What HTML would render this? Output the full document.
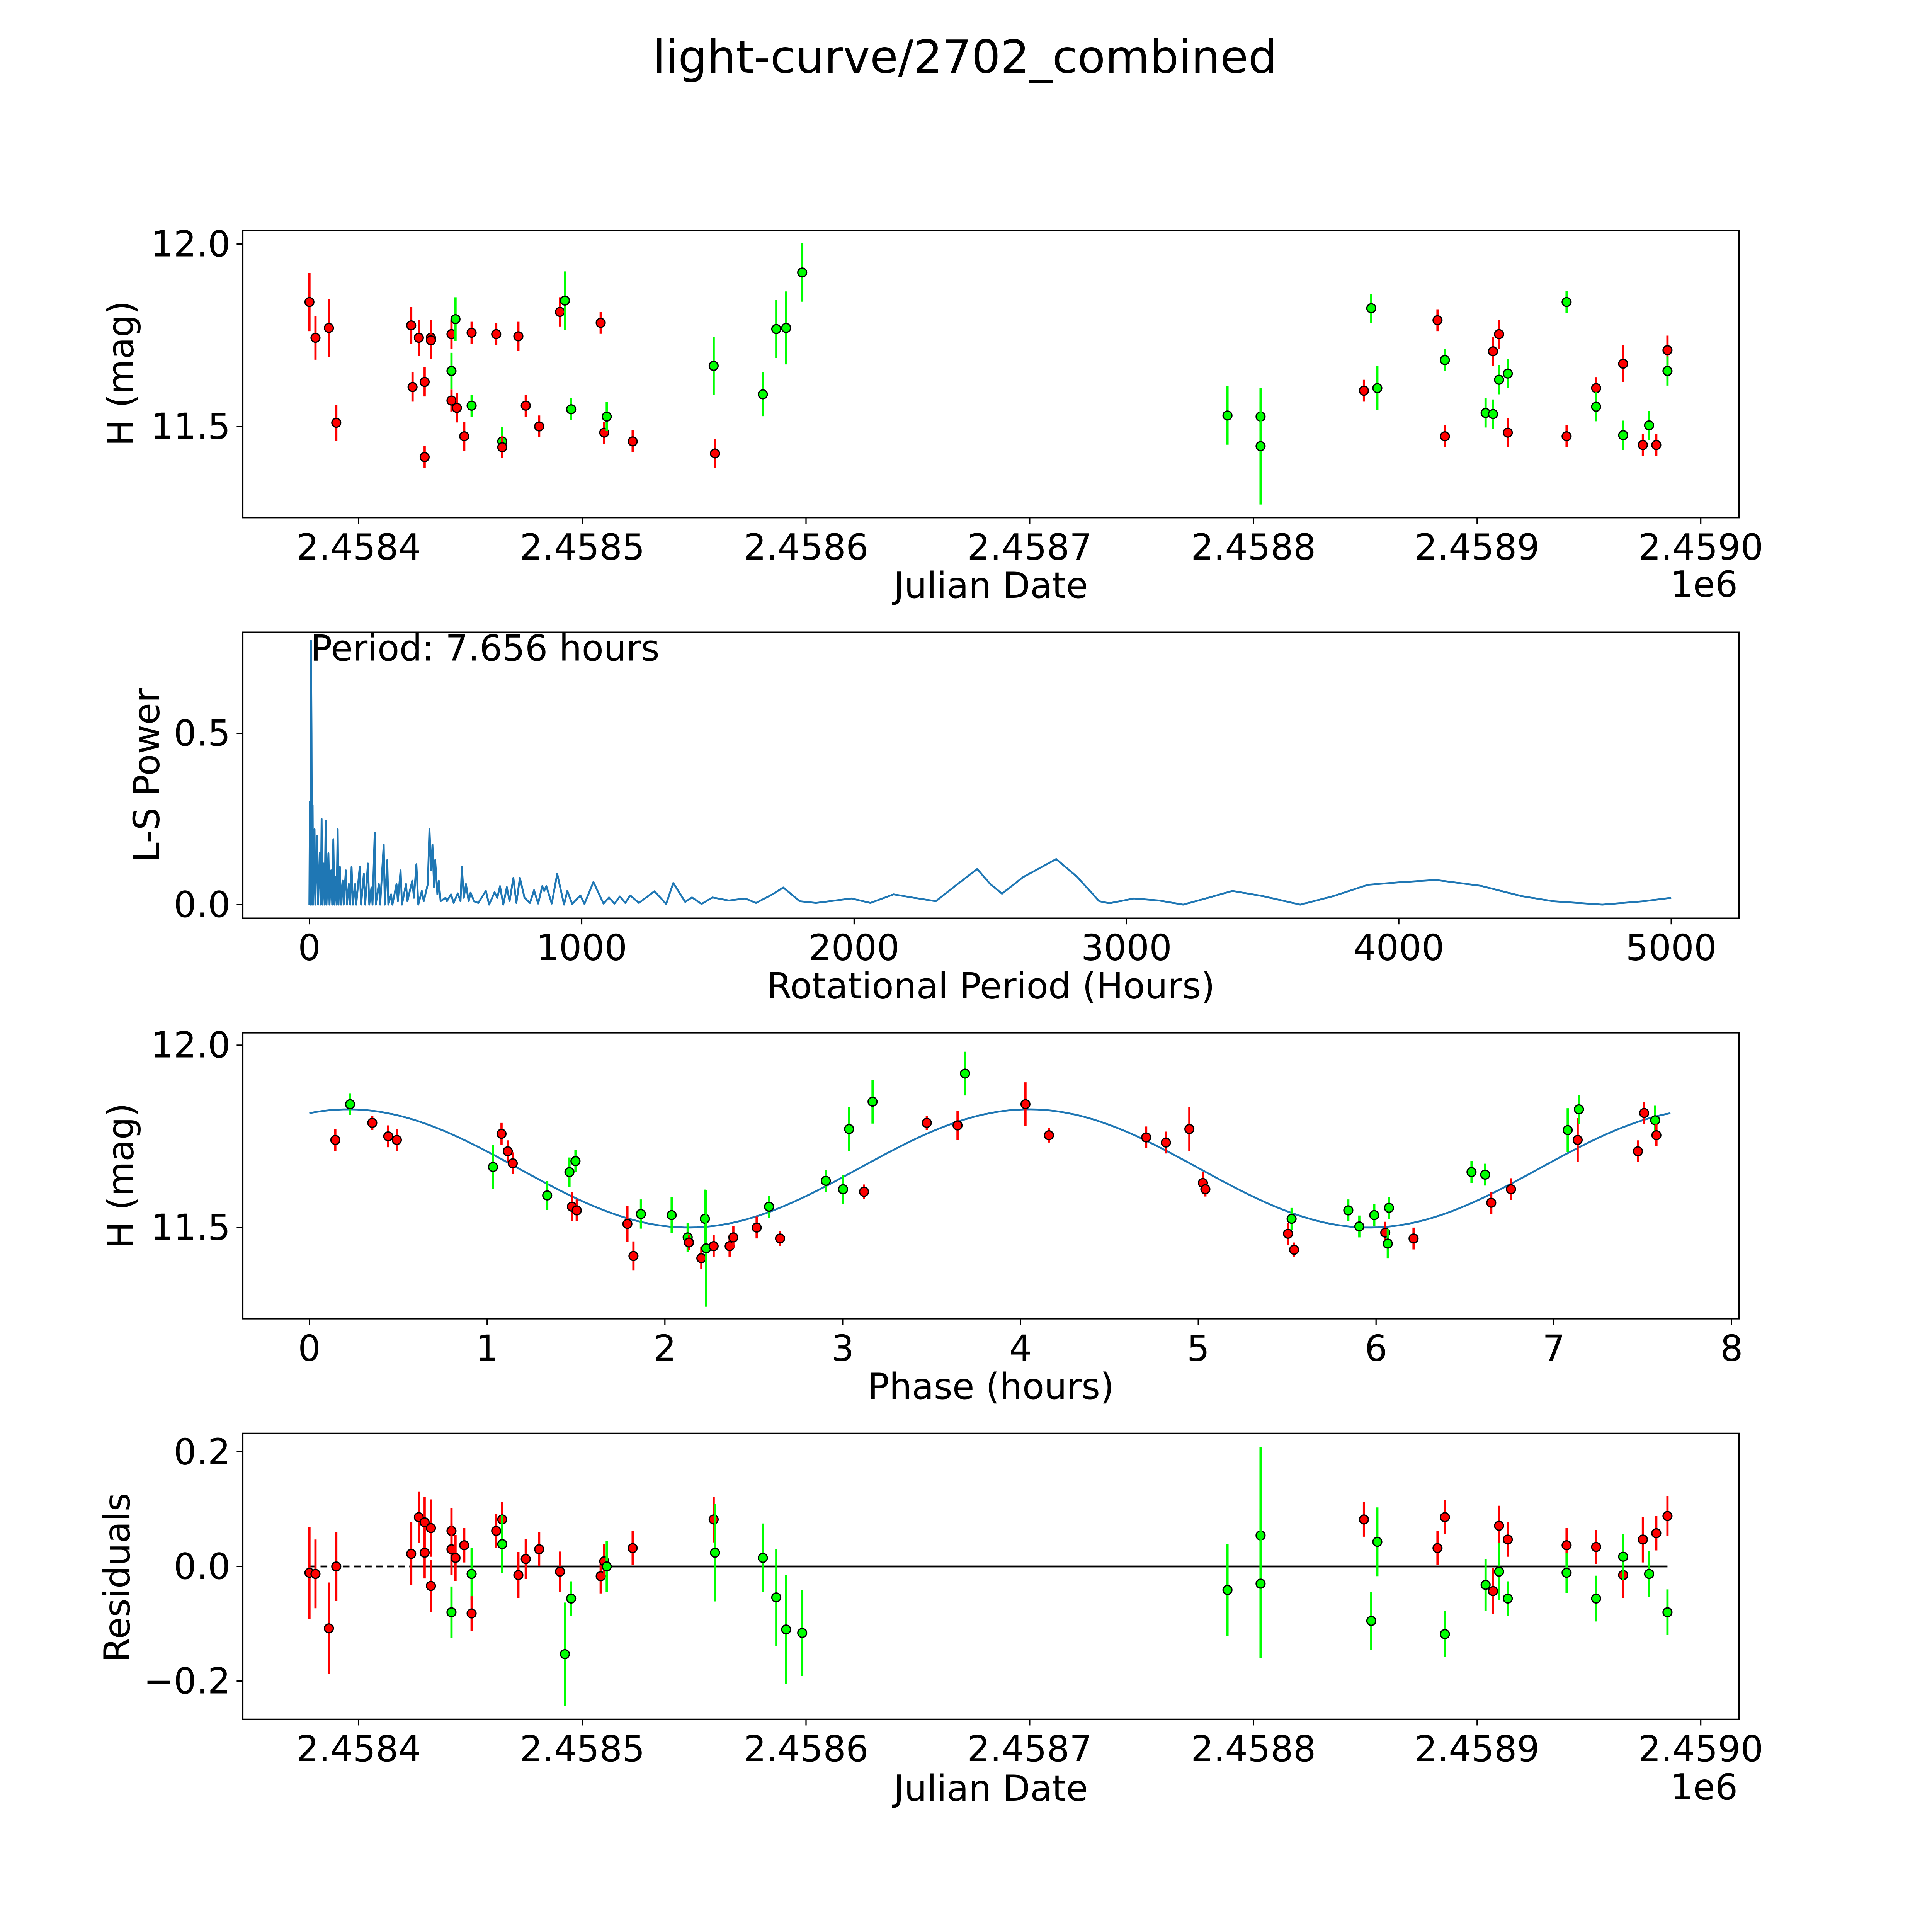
<!DOCTYPE html>
<html><head><meta charset="utf-8"><style>
html,body{margin:0;padding:0;background:#fff;width:5400px;height:5400px;overflow:hidden}
svg{display:block;width:5400px;height:5400px;position:absolute;left:0;top:0}
text{font-family:"DejaVu Sans","Liberation Sans",sans-serif;fill:#000}
</style></head><body>
<svg id="fig" width="5400" height="5400" viewBox="0 0 1693 1693" preserveAspectRatio="none" xmlns="http://www.w3.org/2000/svg">
<rect width="1693" height="1693" fill="#fff"/>
<text x="783" y="59" font-size="37" text-anchor="middle">light-curve/2702_combined</text>
<g id="g1"></g>
<g id="g2"></g>
<g id="g3"></g>
<g id="g4"></g>
</svg>
<script>
// ---- Panel 1: light curve (days since JD 2458400) ----
const lcDays=[-22.0,-19.3,-13.3,-10.0,23.5,24.1,26.9,29.5,29.5,32.3,32.3,41.5,41.5,41.5,43.3,43.9,47.2,50.5,50.5,61.5,64.2,64.2,71.4,74.7,80.7,90.0,92.2,95.0,108.2,109.8,110.9,122.5,158.7,159.3,180.7,186.7,191.1,198.3,388.4,403.2,403.2,449.4,452.7,455.4,482.3,485.6,485.6,503.8,507.1,507.1,509.8,509.8,513.7,513.7,540.0,540.0,553.2,553.2,565.3,565.3,574.1,576.9,580.1,585.1,585.1];
const lcMag=[11.841,11.743,11.770,11.510,11.777,11.608,11.743,11.622,11.416,11.743,11.736,11.753,11.652,11.571,11.794,11.551,11.473,11.757,11.557,11.753,11.459,11.443,11.747,11.557,11.5,11.814,11.845,11.547,11.784,11.483,11.527,11.459,11.666,11.426,11.588,11.767,11.770,11.922,11.530,11.527,11.446,11.598,11.824,11.605,11.791,11.682,11.473,11.537,11.534,11.706,11.753,11.628,11.645,11.483,11.841,11.473,11.605,11.554,11.672,11.476,11.449,11.503,11.449,11.709,11.652];
const lcErr=[0.08,0.06,0.08,0.05,0.05,0.04,0.05,0.04,0.03,0.05,0.05,0.04,0.05,0.03,0.06,0.04,0.04,0.03,0.03,0.03,0.04,0.03,0.04,0.03,0.03,0.04,0.08,0.03,0.03,0.03,0.04,0.03,0.08,0.04,0.06,0.08,0.1,0.08,0.08,0.04,0.16,0.03,0.04,0.06,0.03,0.03,0.03,0.04,0.04,0.04,0.04,0.04,0.04,0.04,0.03,0.03,0.03,0.04,0.05,0.04,0.03,0.04,0.03,0.04,0.04];
const lcBand=["r","r","r","r","r","r","r","r","r","r","r","r","g","r","g","r","r","r","g","r","g","r","r","r","r","r","g","g","r","r","g","r","g","r","g","g","g","g","g","g","g","r","g","g","r","g","r","g","g","r","r","g","g","r","g","r","r","g","r","g","r","g","r","r","g"];
const lcTicks=[2.4584,2.4585,2.4586,2.4587,2.4588,2.4589,2.4590];
// ---- Panel 2: periodogram ----
const lsPeriod=[0,2,4,6,8,10,12,14,19,22,28,32,38,42,45,48,52,56,60,63,70,74,80,84,88,92,97,100,104,107,112,116,122,126,134,138,145,150,155,160,168,172,185,190,200,205,215,220,228,232,240,244,255,260,273,277,286,290,300,305,320,325,335,340,355,360,378,384,393,400,413,420,435,441,447,452,458,462,470,475,482,500,505,520,530,545,555,560,567,575,585,592,605,620,648,660,680,690,700,712,725,735,749,760,773,790,810,825,840,855,862,870,890,910,935,947,965,995,1010,1043,1080,1100,1120,1140,1160,1178,1210,1267,1310,1336,1380,1405,1440,1480,1540,1600,1640,1700,1740,1800,1860,1990,2060,2145,2220,2300,2380,2452,2500,2543,2620,2742,2820,2900,2937,3027,3120,3208,3300,3389,3500,3638,3760,3887,4000,4136,4300,4450,4566,4747,4900,5000];
const lsPower=[0,0.3,0,0.77,0.5,0,0.29,0,0.22,0,0.2,0,0.15,0,0.25,0,0.12,0,0.245,0,0.15,0,0.1,0,0.19,0,0.08,0,0.22,0,0.11,0,0.07,0,0.1,0,0.06,0,0.11,0,0.06,0,0.11,0,0.09,0,0.12,0,0.05,0,0.21,0,0.06,0,0.175,0,0.13,0,0.03,0,0.06,0.01,0.1,0,0.06,0.01,0.07,0.02,0.118,0,0.04,0.01,0.06,0.22,0.1,0.175,0.05,0.13,0.03,0.07,0.01,0.02,0.01,0.03,0.005,0.033,0.01,0.11,0.02,0.06,0.01,0.035,0.01,0.005,0.04,0,0.036,0.02,0.054,0,0.051,0.01,0.078,0.005,0.078,0.02,0.005,0.042,0.003,0.054,0.04,0.054,0.003,0.09,0,0.04,0.002,0.027,0.002,0.066,0.003,0.021,0.003,0.024,0.005,0.027,0.005,0.039,0.002,0.063,0.008,0.021,0.002,0.021,0.012,0.018,0.005,0.03,0.05,0.01,0.005,0.018,0.005,0.03,0.02,0.01,0.06,0.104,0.06,0.032,0.08,0.133,0.08,0.01,0.004,0.018,0.012,0,0.02,0.04,0.025,0,0.025,0.058,0.065,0.072,0.055,0.025,0.01,0,0.01,0.02];
const lsTicksX=[0,1000,2000,3000,4000,5000];
const lsTicksY=[0.0,0.5];
// ---- Panel 3: phase folded ----
const phHours=[0.146,0.229,0.354,0.444,0.492,1.033,1.081,1.116,1.144,1.338,1.463,1.497,1.477,1.504,1.789,1.823,1.865,2.038,2.128,2.135,2.205,2.225,2.232,2.274,2.364,2.385,2.516,2.586,2.648,2.905,3.002,3.036,3.120,3.168,3.473,3.646,3.688,4.028,4.160,4.707,4.818,4.950,5.026,5.040,5.505,5.525,5.539,5.844,5.906,5.990,6.052,6.073,6.066,6.211,6.537,6.614,6.648,6.759,7.078,7.134,7.141,7.473,7.508,7.570,7.577];
const phMag=[11.740,11.838,11.787,11.750,11.740,11.666,11.757,11.709,11.676,11.588,11.652,11.682,11.557,11.547,11.510,11.422,11.537,11.534,11.473,11.459,11.416,11.524,11.443,11.449,11.449,11.473,11.5,11.557,11.470,11.628,11.605,11.770,11.598,11.845,11.787,11.780,11.922,11.838,11.753,11.747,11.733,11.770,11.622,11.605,11.483,11.524,11.439,11.547,11.503,11.534,11.486,11.554,11.456,11.470,11.652,11.645,11.568,11.605,11.767,11.740,11.824,11.709,11.814,11.794,11.753];
const phErr=[0.03,0.03,0.02,0.03,0.03,0.06,0.03,0.03,0.03,0.04,0.04,0.03,0.04,0.03,0.05,0.04,0.04,0.05,0.04,0.02,0.03,0.08,0.16,0.03,0.03,0.03,0.03,0.03,0.02,0.03,0.04,0.06,0.02,0.06,0.02,0.04,0.06,0.06,0.02,0.03,0.03,0.06,0.03,0.02,0.03,0.03,0.02,0.03,0.03,0.03,0.03,0.03,0.04,0.03,0.03,0.03,0.03,0.03,0.06,0.06,0.04,0.03,0.03,0.04,0.03];
const phBand=["r","g","r","r","r","g","r","r","r","g","g","g","r","r","r","r","g","g","g","r","r","g","g","r","r","r","r","g","r","g","g","g","r","g","r","r","g","r","r","r","r","r","r","r","r","g","r","g","g","g","r","g","g","r","g","g","r","r","g","r","g","r","r","g","r"];
const phTicks=[0,1,2,3,4,5,6,7,8];
const modelMean=11.662, modelAmp=0.162, modelPeriod=7.656, modelShift=0.22;
// ---- Panel 4: residuals ----
const rsDays=[-22.0,-19.3,-13.3,-10.0,23.5,26.9,29.5,29.5,32.3,32.3,41.5,41.5,41.5,43.3,47.2,50.5,50.5,61.5,64.2,64.2,71.4,74.7,80.7,90.0,92.2,95.0,108.2,109.8,110.9,122.5,158.7,159.3,180.7,186.7,191.1,198.3,388.4,403.2,403.2,449.4,452.7,455.4,482.3,485.6,485.6,503.8,507.1,509.8,509.8,513.7,513.7,540.0,540.0,553.2,553.2,565.3,565.3,574.1,576.9,580.1,585.1,585.1];
const rsVal=[-0.011,-0.013,-0.108,0.0,0.022,0.086,0.077,0.024,0.067,-0.034,0.062,0.030,-0.080,0.015,0.037,-0.013,-0.082,0.062,0.082,0.039,-0.015,0.013,0.030,-0.009,-0.153,-0.056,-0.017,0.009,0.0,0.032,0.082,0.024,0.015,-0.054,-0.110,-0.116,-0.041,0.054,-0.030,0.082,-0.095,0.043,0.032,0.086,-0.118,-0.032,-0.043,0.071,-0.009,0.047,-0.056,0.037,-0.011,0.034,-0.056,-0.015,0.017,0.047,-0.013,0.058,0.088,-0.080];
const rsErr=[0.08,0.06,0.08,0.06,0.055,0.045,0.045,0.045,0.05,0.045,0.04,0.045,0.045,0.04,0.03,0.045,0.03,0.03,0.03,0.05,0.04,0.035,0.03,0.035,0.09,0.03,0.03,0.03,0.045,0.03,0.04,0.085,0.06,0.085,0.095,0.075,0.08,0.155,0.13,0.03,0.05,0.06,0.03,0.03,0.04,0.045,0.04,0.035,0.05,0.03,0.03,0.03,0.035,0.03,0.04,0.04,0.04,0.04,0.04,0.03,0.035,0.04];
const rsBand=["r","r","r","r","r","r","r","r","r","r","r","r","g","r","r","g","r","r","r","g","r","r","r","r","g","g","r","r","g","r","r","g","g","g","g","g","g","g","g","r","g","g","r","r","g","g","r","r","g","r","g","r","g","r","g","r","g","r","g","r","r","g"];
const rsTicksY=[-0.2,0.0,0.2];

const NS="http://www.w3.org/2000/svg";
const FS=29;
function mk(parent,tag,attrs){const e=document.createElementNS(NS,tag);for(const k in attrs)e.setAttribute(k,attrs[k]);parent.appendChild(e);return e;}
const COL={r:"#ff0000",g:"#00ff00"};
function frame(g,x0,y0,x1,y1){const r=mk(g,"rect",{x:x0,y:y0,width:x1-x0,height:y1-y0,fill:"none",stroke:"#000","stroke-width":1.1});

}
function xtick(g,x,y,label){const l=mk(g,"line",{x1:x,x2:x,y1:y,y2:y+5,stroke:"#000","stroke-width":1});


const t=mk(g,"text",{x:x,y:y+34,"font-size":FS,"text-anchor":"middle"});t.textContent=label;

}
function ytick(g,x,y,label){const l=mk(g,"line",{x1:x-5,x2:x,y1:y,y2:y,stroke:"#000","stroke-width":1});


const t=mk(g,"text",{x:x-10,y:y+10,"font-size":FS,"text-anchor":"end"});t.textContent=label;

}
function label(g,x,y,txt,rot,name){const t=mk(g,"text",{x:x,y:y,"font-size":FS,"text-anchor":"middle"});if(rot)t.setAttribute("transform",`rotate(-90 ${x} ${y})`);t.textContent=txt;

}
function point(g,x,y,e1,e2,c){const l=mk(g,"line",{x1:x,x2:x,y1:e1,y2:e2,stroke:c,"stroke-width":1.8});


const p=mk(g,"circle",{cx:x,cy:y,r:3.6,fill:c,stroke:"#000","stroke-width":1});

}
const jdToDay=v=>Math.round((v-2.4584)*1e6);
const jdX=d=>291+d*1.815;

// Panel 1
(function(){const g=document.getElementById("g1");
const sx=jdX, sy=m=>198+(12.0-m)*296;
frame(g,197,187,1411,420);
lcTicks.forEach(v=>xtick(g,sx(jdToDay(v)),420,v.toFixed(4)));
[12.0,11.5].forEach(v=>ytick(g,197,sy(v),v.toFixed(1)));
lcDays.forEach((d,i)=>point(g,sx(d),sy(lcMag[i]),sy(lcMag[i]+lcErr[i]),sy(lcMag[i]-lcErr[i]),COL[lcBand[i]]));
label(g,804,485,"Julian Date",false,"x-axis-title");
const e=mk(g,"text",{x:1410,y:484,"font-size":FS,"text-anchor":"end"});e.textContent="1e6";


label(g,108,303,"H (mag)",true,"y-axis-title");})();

// Panel 2
(function(){const g=document.getElementById("g2");
const sx=p=>251+p*0.221, sy=v=>734-v*278;
frame(g,197,513,1411,745);
lsTicksX.forEach(v=>xtick(g,sx(v),745,String(v)));
lsTicksY.forEach(v=>ytick(g,197,sy(v),v.toFixed(1)));
const pts=lsPeriod.map((p,i)=>sx(p).toFixed(2)+","+sy(lsPower[i]).toFixed(2)).join(" ");
const pl=mk(g,"polyline",{points:pts,fill:"none",stroke:"#1f77b4","stroke-width":1.5,"stroke-linejoin":"round"});


const t=mk(g,"text",{x:252,y:536,"font-size":FS});t.textContent="Period: 7.656 hours";


label(g,804,810,"Rotational Period (Hours)",false,"x-axis-title");
label(g,129,629,"L-S Power",true,"y-axis-title");})();

// Panel 3
(function(){const g=document.getElementById("g3");
const sx=h=>251+h*144.25, sy=m=>848+(12.0-m)*296;
frame(g,197,838,1411,1070);
phTicks.forEach(v=>xtick(g,sx(v),1070,String(v)));
[12.0,11.5].forEach(v=>ytick(g,197,sy(v),v.toFixed(1)));
let pts=[];for(let k=0;k<=200;k++){const h=modelPeriod*k/200;const m=modelMean+modelAmp*Math.cos(4*Math.PI*(h-modelShift)/modelPeriod);pts.push(sx(h).toFixed(2)+","+sy(m).toFixed(2));}
const pl=mk(g,"polyline",{points:pts.join(" "),fill:"none",stroke:"#1f77b4","stroke-width":1.5});


phHours.forEach((h,i)=>point(g,sx(h),sy(phMag[i]),sy(phMag[i]+phErr[i]),sy(phMag[i]-phErr[i]),COL[phBand[i]]));
label(g,804,1135,"Phase (hours)",false,"x-axis-title");
label(g,108,954,"H (mag)",true,"y-axis-title");})();

// Panel 4
(function(){const g=document.getElementById("g4");
const sx=jdX, sy=v=>1271-v*465;
frame(g,197,1163,1411,1395);
lcTicks.forEach(v=>xtick(g,sx(jdToDay(v)),1395,v.toFixed(4)));
rsTicksY.forEach(v=>ytick(g,197,sy(v),v===0?"0.0":(v<0?"\u2212"+Math.abs(v).toFixed(1):v.toFixed(1))));
const l1=mk(g,"line",{x1:sx(rsDays[0]),x2:sx(23.5),y1:sy(0),y2:sy(0),stroke:"#000","stroke-width":1.5,"stroke-dasharray":"5.5,3.5"});


const l2=mk(g,"line",{x1:sx(23.5),x2:sx(rsDays[rsDays.length-1]),y1:sy(0),y2:sy(0),stroke:"#000","stroke-width":1.5});


rsDays.forEach((d,i)=>point(g,sx(d),sy(rsVal[i]),sy(rsVal[i]+rsErr[i]),sy(rsVal[i]-rsErr[i]),COL[rsBand[i]]));
label(g,804,1461,"Julian Date",false,"x-axis-title");
const e=mk(g,"text",{x:1410,y:1460,"font-size":FS,"text-anchor":"end"});e.textContent="1e6";


label(g,105,1280,"Residuals",true,"y-axis-title");})();
</script>
</body></html>
